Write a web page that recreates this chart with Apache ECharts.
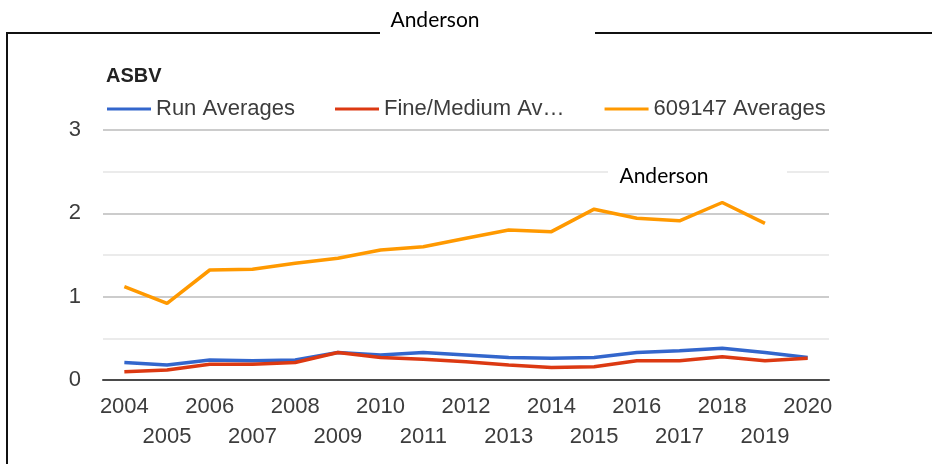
<!DOCTYPE html>
<html>
<head>
<meta charset="utf-8">
<script src="https://cdn.jsdelivr.net/npm/echarts@6/dist/echarts.min.js"></script>
<style>
  html, body { margin: 0; padding: 0; background: #fff; }
  #main { width: 932px; height: 464px; }
</style>
</head>
<body>
<div id="main"></div>
<script>
// data
var years = ['2004', '2005', '2006', '2007', '2008', '2009', '2010', '2011', '2012',
  '2013', '2014', '2015', '2016', '2017', '2018', '2019', '2020'];
var runAverages = [0.21, 0.18, 0.24, 0.23, 0.24, 0.33, 0.30, 0.33, 0.30,
  0.27, 0.26, 0.27, 0.33, 0.35, 0.38, 0.33, 0.27];
var fineMediumAverages = [0.10, 0.12, 0.19, 0.19, 0.21, 0.33, 0.27, 0.25, 0.22,
  0.18, 0.15, 0.16, 0.23, 0.23, 0.28, 0.23, 0.26];
var averages609147 = [1.12, 0.92, 1.32, 1.33, 1.40, 1.46, 1.56, 1.60, 1.70,
  1.80, 1.78, 2.05, 1.94, 1.91, 2.13, 1.88, null];
var yTicks = [0, 1, 2, 3];

var font = 'Arial';
var myChart = echarts.init(document.getElementById('main'));

var option = {
  animation: false,
  textStyle: { fontFamily: font },
  title: {
    text: 'ASBV',
    left: 101,
    top: 61,
    textStyle: { fontSize: 20, fontWeight: 'bold', color: '#222', fontFamily: font }
  },
  legend: {
    left: 102,
    top: 93,
    itemWidth: 44,
    itemHeight: 14,
    itemGap: 40,
    icon: 'path://M0,6 L44,6 L44,9 L0,9 Z',
    textStyle: { fontSize: 22, color: '#3c3c3c', fontFamily: font },
    formatter: function (name) {
      return name === 'Fine/Medium Averages' ? 'Fine/Medium Av…' : name;
    }
  },
  grid: { left: 103, right: 103, top: 130, bottom: 84 },
  xAxis: {
    type: 'category',
    data: years,
    boundaryGap: true,
    axisLine: { lineStyle: { color: '#4a4a4a', width: 2 } },
    axisTick: { show: false },
    axisLabel: {
      interval: 0,
      fontSize: 22,
      fontFamily: font,
      color: '#3c3c3c',
      margin: 12,
      lineHeight: 30,
      formatter: function (v, i) { return i % 2 ? '\n' + v : v; }
    }
  },
  yAxis: {
    type: 'value',
    min: yTicks[0],
    max: yTicks[yTicks.length - 1],
    interval: 1,
    axisLine: { show: false },
    axisTick: { show: false },
    axisLabel: { fontSize: 22, fontFamily: font, color: '#3c3c3c', margin: 22 },
    splitLine: { lineStyle: { color: '#cccccc', width: 2 } },
    minorTick: { show: false, splitNumber: 2 },
    minorSplitLine: { show: true, lineStyle: { color: '#ebebeb', width: 2 } }
  },
  series: [
    { name: 'Run Averages', type: 'line', data: runAverages, symbol: 'none',
      color: '#3366cc', lineStyle: { width: 3.5 } },
    { name: 'Fine/Medium Averages', type: 'line', data: fineMediumAverages, symbol: 'none',
      color: '#dc3912', lineStyle: { width: 3.5 } },
    { name: '609147 Averages', type: 'line', data: averages609147, symbol: 'none',
      color: '#ff9900', lineStyle: { width: 3.5 } }
  ],
  graphic: [
    // frame around the chart, open at the top for the heading
    { type: 'line', shape: { x1: 7, y1: 33, x2: 380, y2: 33 }, style: { stroke: '#111', lineWidth: 2 } },
    { type: 'line', shape: { x1: 595, y1: 33, x2: 932, y2: 33 }, style: { stroke: '#111', lineWidth: 2 } },
    { type: 'line', shape: { x1: 7, y1: 32, x2: 7, y2: 464 }, style: { stroke: '#111', lineWidth: 2 } },
    { type: 'text', x: 435, y: 20, style: { text: 'Anderson', font: '21px Lato, sans-serif',
      fill: '#000', textAlign: 'center', textVerticalAlign: 'middle' } },
    // label pasted over the plot
    { type: 'rect', z: 100, shape: { x: 608, y: 160, width: 179, height: 28 }, style: { fill: '#fff' } },
    { type: 'text', z: 101, x: 664, y: 176, style: { text: 'Anderson', font: '21px Lato, sans-serif',
      fill: '#000', textAlign: 'center', textVerticalAlign: 'middle' } }
  ]
};

myChart.setOption(option);
</script>
</body>
</html>
